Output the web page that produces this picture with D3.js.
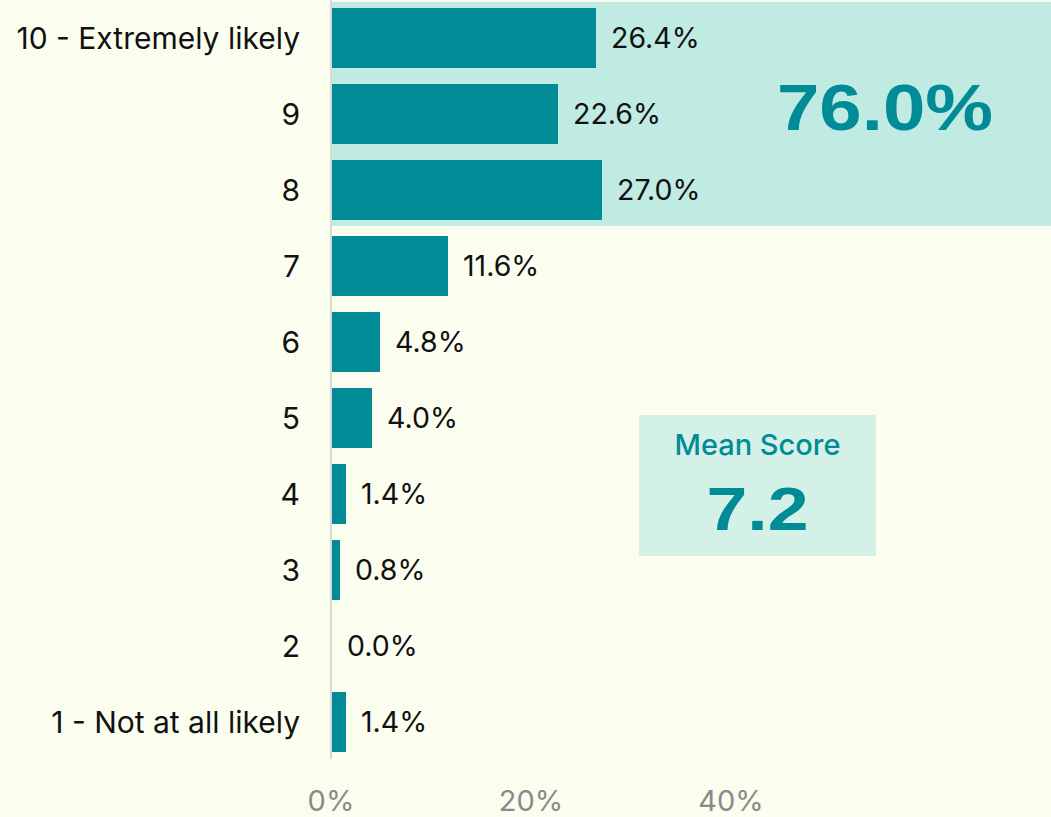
<!DOCTYPE html>
<html>
<head>
<meta charset="utf-8">
<script src="https://cdn.jsdelivr.net/npm/d3@7"></script>
<style>
  html, body { margin: 0; padding: 0; background: #fbfeef; }
  svg { display: block; font-family: Inter, "Liberation Sans", Arial, sans-serif; }
</style>
</head>
<body>
<svg id="chart" width="1051" height="817"></svg>
<script>
// likelihood to recommend - horizontal bars
const categories = ["10 - Extremely likely", "9", "8", "7", "6", "5", "4", "3", "2", "1 - Not at all likely"];
const values = [0.264, 0.226, 0.270, 0.116, 0.048, 0.040, 0.014, 0.008, 0.000, 0.014];
const tickValues = [0, 0.2, 0.4];
const topBoxLabel = "76.0%";
const meanLabel = "Mean Score";
const meanValue = "7.2";

const teal = "#018b96";
const svg = d3.select("#chart");
const width = 1051, height = 817;

const x = d3.scaleLinear().domain([0, 1]).range([331, 1331]);
const y = d3.scaleBand().domain(categories).range([0, 760])
  .paddingInner(16 / 76).paddingOuter(8 / 76);

// top-3 highlight box
const topY = y(categories[0]) - 6;
const botY = y(categories[2]) + y.bandwidth() + 6;
svg.append("rect")
  .attr("x", x(0) + 1).attr("y", topY)
  .attr("width", width - x(0) - 1).attr("height", botY - topY)
  .attr("fill", "#c0ebe3");

svg.append("text")
  .attr("x", 885).attr("y", 130)
  .attr("text-anchor", "middle")
  .attr("font-family", "'Liberation Sans', Arial, sans-serif")
  .attr("font-size", 64).attr("font-weight", 700)
  .attr("fill", teal)
  .attr("textLength", 216).attr("lengthAdjust", "spacingAndGlyphs")
  .text(topBoxLabel);

// axis line
svg.append("line")
  .attr("x1", x(0)).attr("x2", x(0))
  .attr("y1", 0).attr("y2", 759)
  .attr("stroke", "#d8d8d6").attr("stroke-width", 2);

// bars
svg.selectAll("rect.bar")
  .data(values)
  .join("rect")
  .attr("class", "bar")
  .attr("x", x(0) + 1)
  .attr("y", (d, i) => y(categories[i]))
  .attr("width", d => Math.max(0, x(d) - x(0)))
  .attr("height", y.bandwidth())
  .attr("fill", teal);

// value labels
svg.selectAll("text.val")
  .data(values)
  .join("text")
  .attr("class", "val")
  .attr("x", d => x(d) + 16)
  .attr("y", (d, i) => y(categories[i]) + y.bandwidth() / 2)
  .attr("dy", "0.36em")
  .attr("font-size", 28.5)
  .attr("fill", "#111")
  .text(d => (d * 100).toFixed(1) + "%");

// category labels
svg.selectAll("text.cat")
  .data(categories)
  .join("text")
  .attr("class", "cat")
  .attr("x", 300)
  .attr("y", d => y(d) + y.bandwidth() / 2)
  .attr("dy", "0.36em")
  .attr("text-anchor", "end")
  .attr("font-size", 30)
  .attr("fill", "#111")
  .text(d => d);

// x tick labels
svg.selectAll("text.tick")
  .data(tickValues)
  .join("text")
  .attr("class", "tick")
  .attr("x", d => x(d))
  .attr("y", 811)
  .attr("text-anchor", "middle")
  .attr("font-size", 29)
  .attr("fill", "#8a8a88")
  .text(d3.format(".0%"));

// mean score box
const mb = {x: 639, y: 415, w: 237, h: 141};
svg.append("rect")
  .attr("x", mb.x).attr("y", mb.y)
  .attr("width", mb.w).attr("height", mb.h)
  .attr("fill", "#d3f1e6");
svg.append("text")
  .attr("x", mb.x + mb.w / 2).attr("y", 455)
  .attr("text-anchor", "middle")
  .attr("font-size", 29).attr("font-weight", 500)
  .attr("fill", teal)
  .text(meanLabel);
svg.append("text")
  .attr("x", mb.x + mb.w / 2).attr("y", 530)
  .attr("text-anchor", "middle")
  .attr("font-family", "'Liberation Sans', Arial, sans-serif")
  .attr("font-size", 62).attr("font-weight", 700)
  .attr("fill", teal)
  .attr("textLength", 102).attr("lengthAdjust", "spacingAndGlyphs")
  .text(meanValue);
</script>
</body>
</html>
